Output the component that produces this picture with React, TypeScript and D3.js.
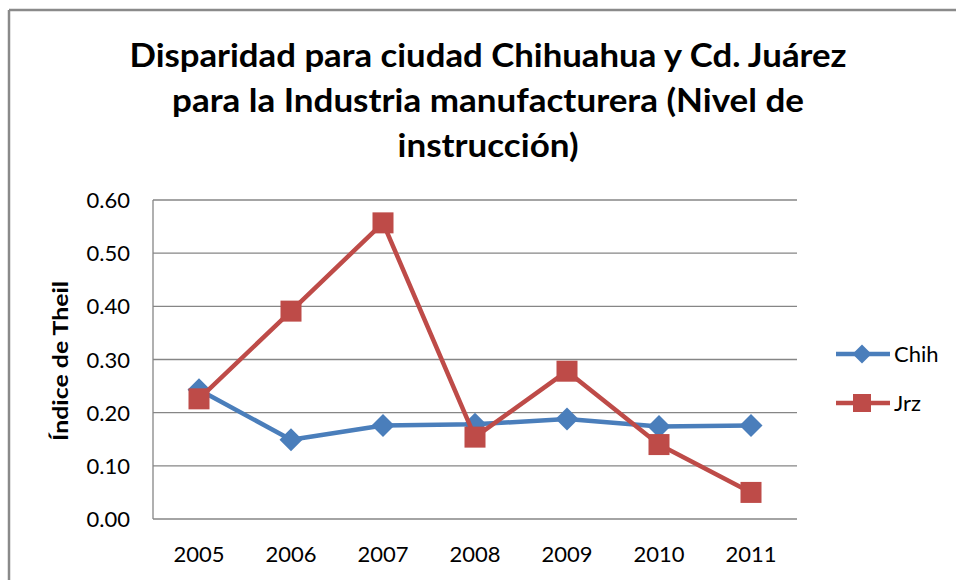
import React from "react";
import * as d3 from "d3";

const years = ["2005", "2006", "2007", "2008", "2009", "2010", "2011"];
const chih = [0.243, 0.149, 0.176, 0.178, 0.188, 0.174, 0.176];
const jrz = [0.226, 0.391, 0.557, 0.154, 0.278, 0.14, 0.05];
const yTicks = [0, 0.1, 0.2, 0.3, 0.4, 0.5, 0.6];
const titleLines = [
  "Disparidad para ciudad Chihuahua y Cd. Juárez",
  "para la Industria manufacturera (Nivel de",
  "instrucción)",
];
const titleWidths = [717, 632, 181];
const seriesNames = ["Chih", "Jrz"];

const BLUE = "#4A7EBB";
const RED = "#BE4B48";
const FONT = "Lato, 'Open Sans', sans-serif";

export default function App() {
  const W = 956, H = 580;
  const left = 153, right = 797, top = 200, bottom = 519;
  const x = d3.scalePoint<string>().domain(years).range([left, right]).padding(0.5);
  const y = d3.scaleLinear().domain([0, 0.6]).range([bottom, top]);
  const line = d3.line<number>().x((_, i) => x(years[i])!).y((d) => y(d));

  const diamond = (cx: number, cy: number, r: number) =>
    `M${cx},${cy - r}L${cx + r},${cy}L${cx},${cy + r}L${cx - r},${cy}Z`;

  return (
    <svg width={W} height={H} style={{ position: "fixed", left: 0, top: 0, background: "#fff" }}>
      <rect x={0} y={0} width={W} height={H} fill="#fff" />
      {/* outer frame */}
      <line x1={9} y1={10} x2={W} y2={10} stroke="#8a8a8a" strokeWidth={2.5} />
      <line x1={9} y1={10} x2={9} y2={H} stroke="#8a8a8a" strokeWidth={2.5} />

      {/* title */}
      {titleLines.map((t, i) => (
        <text key={i} x={488} y={67 + i * 45} textAnchor="middle" fontFamily={FONT}
          fontWeight="bold" fontSize={32} fill="#000"
          textLength={titleWidths[i]} lengthAdjust="spacingAndGlyphs">{t}</text>
      ))}

      {/* gridlines */}
      {yTicks.map((t) => (
        <line key={t} x1={left} x2={right} y1={y(t)} y2={y(t)} stroke="#868686" strokeWidth={1.3} />
      ))}
      <line x1={left} x2={left} y1={top} y2={bottom} stroke="#868686" strokeWidth={1.3} />

      {/* y tick labels */}
      {yTicks.map((t) => (
        <text key={t} x={130} y={y(t) + 8} textAnchor="end" fontFamily={FONT} fontSize={22} fill="#000">
          {t.toFixed(2)}
        </text>
      ))}
      {/* x tick labels */}
      {years.map((yr) => (
        <text key={yr} x={x(yr)} y={562} textAnchor="middle" fontFamily={FONT} fontSize={22} fill="#000">
          {yr}
        </text>
      ))}

      {/* y axis title */}
      <text transform={`translate(68,361) rotate(-90)`} textAnchor="middle" fontFamily={FONT}
        fontWeight="bold" fontSize={20} fill="#000" textLength={160}
        lengthAdjust="spacingAndGlyphs">Índice de Theil</text>

      {/* series */}
      <path d={line(chih)!} fill="none" stroke={BLUE} strokeWidth={4.5} strokeLinejoin="round" />
      {chih.map((v, i) => (
        <path key={i} d={diamond(x(years[i])!, y(v), 11.5)} fill={BLUE} />
      ))}
      <path d={line(jrz)!} fill="none" stroke={RED} strokeWidth={4.5} strokeLinejoin="round" />
      {jrz.map((v, i) => (
        <rect key={i} x={x(years[i])! - 10.5} y={y(v) - 10.5} width={21} height={21} fill={RED} />
      ))}

      {/* legend */}
      {seriesNames.map((n, i) => {
        const ly = 354 + i * 49;
        const c = i === 0 ? BLUE : RED;
        return (
          <g key={n}>
            <line x1={836} x2={890} y1={ly} y2={ly} stroke={c} strokeWidth={4.5} />
            {i === 0 ? (
              <path d={diamond(862, ly, 9.5)} fill={c} />
            ) : (
              <rect x={853} y={ly - 9} width={18} height={18} fill={c} />
            )}
            <text x={894} y={ly + 8} fontFamily={FONT} fontSize={22} fill="#000">{n}</text>
          </g>
        );
      })}
    </svg>
  );
}
